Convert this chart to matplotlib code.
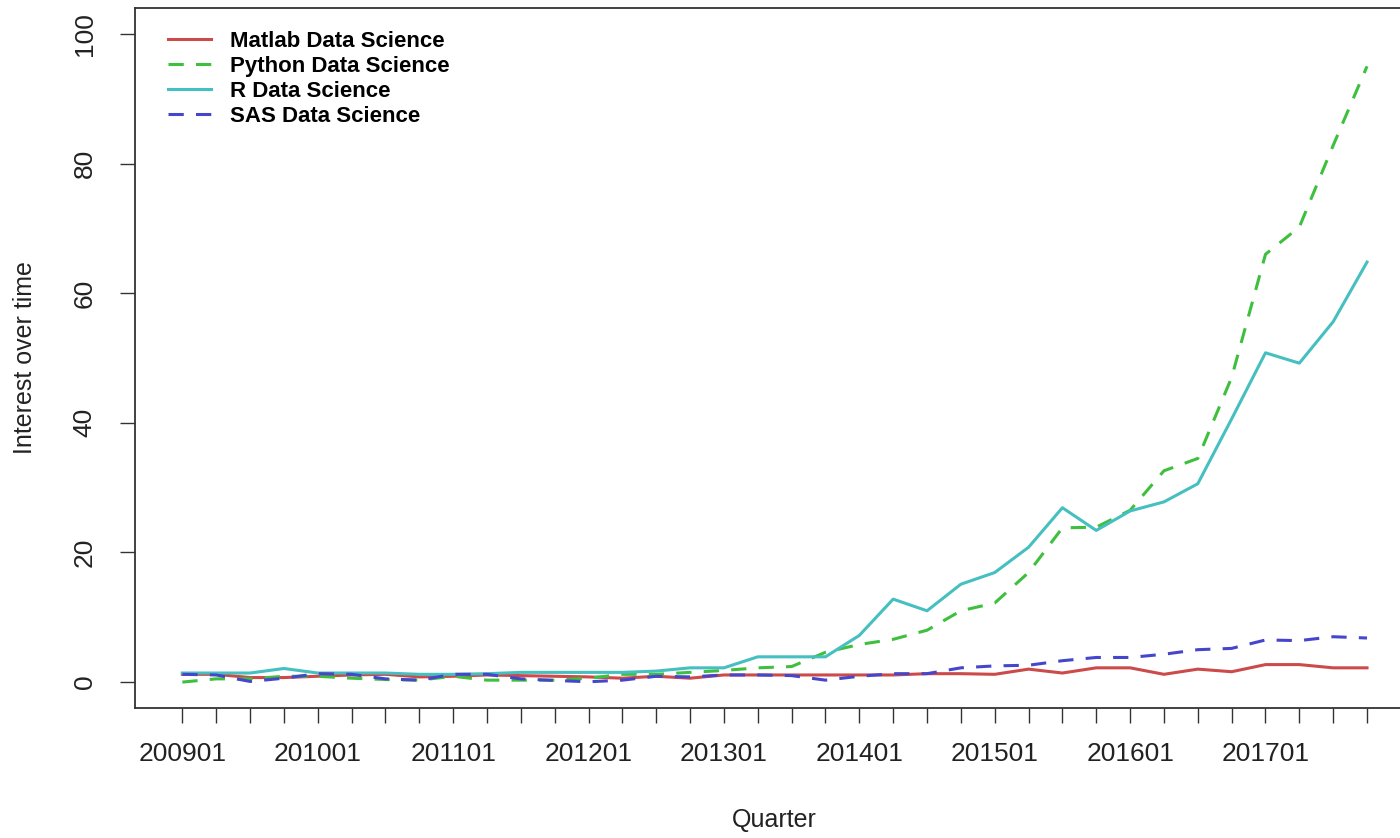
import matplotlib
matplotlib.use("Agg")
import matplotlib.pyplot as plt

plt.rcParams["font.family"] = ["Liberation Sans", "DejaVu Sans"]

# -------------------------------------------------
# DATA
# -------------------------------------------------
quarters = [f"{y}0{q}" for y in range(2009, 2018) for q in range(1, 5)]

matlab = [1.2, 1.2, 0.7, 0.7, 0.9, 1.1, 1.2, 0.8, 0.9, 1.1, 1.0, 0.9,
          0.8, 0.6, 0.9, 0.6, 1.1, 1.1, 1.1, 1.1, 1.1, 1.1, 1.3, 1.3,
          1.2, 2.0, 1.4, 2.2, 2.2, 1.2, 2.0, 1.6, 2.7, 2.7, 2.2, 2.2]
python = [0.0, 0.5, 0.5, 0.9, 0.9, 0.6, 0.4, 0.3, 0.9, 0.3, 0.3, 0.3,
          0.6, 1.2, 1.2, 1.5, 1.8, 2.2, 2.4, 4.6, 5.8, 6.6, 8.0, 11.0,
          12.2, 16.9, 23.8, 23.9, 26.5, 32.6, 34.5, 47.0, 66.0, 70.2, 82.8, 95.0]
r_lang = [1.4, 1.4, 1.4, 2.1, 1.4, 1.4, 1.4, 1.2, 1.2, 1.3, 1.5, 1.5,
          1.5, 1.5, 1.7, 2.2, 2.2, 3.9, 3.9, 3.9, 7.2, 12.8, 11.0, 15.1,
          16.9, 20.8, 26.9, 23.4, 26.4, 27.8, 30.6, 40.6, 50.8, 49.2, 55.6, 64.8]
sas = [1.2, 1.1, 0.1, 0.6, 1.3, 1.2, 0.5, 0.3, 1.2, 1.2, 0.5, 0.25,
       0.05, 0.3, 0.9, 0.8, 1.1, 1.1, 1.0, 0.3, 0.9, 1.3, 1.3, 2.2,
       2.5, 2.6, 3.3, 3.8, 3.8, 4.3, 5.0, 5.2, 6.5, 6.4, 7.0, 6.8]

series = [
    ("Matlab Data Science", matlab, "#CC4A4A", "-"),
    ("Python Data Science", python, "#3EC03E", (0, (5, 4))),
    ("R Data Science", r_lang, "#45BFC0", "-"),
    ("SAS Data Science", sas, "#4646CC", (0, (5, 4))),
]

# -------------------------------------------------
# FIGURE
# -------------------------------------------------
fig = plt.figure(figsize=(14, 8.38), dpi=100)
ax = fig.add_axes([0.0964, 0.1551, 0.9139, 0.8354])

x = list(range(len(quarters)))
for name, vals, color, ls in series:
    ax.plot(x, vals, color=color, linestyle=ls, linewidth=2.2, label=name)

ax.set_xlim(-1.4, len(quarters) - 1 + 1.4)
ax.set_ylim(-4, 104)

ax.set_xticks(x)
ax.set_xticklabels([q if i % 4 == 0 else "" for i, q in enumerate(quarters)])
ax.set_yticks([0, 20, 40, 60, 80, 100])

ax.tick_params(axis="both", direction="out", length=10.5, width=1.0,
               color="#333333", labelsize=19, labelcolor="#222222")
ax.tick_params(axis="x", pad=14)
ax.tick_params(axis="y", pad=17)
for lab in ax.get_yticklabels():
    lab.set_rotation(90)
    lab.set_va("center")

for sp in ax.spines.values():
    sp.set_linewidth(1.3)
    sp.set_color("#333333")

ax.set_xlabel("Quarter", fontsize=18, color="#222222", labelpad=30)
ax.set_ylabel("Interest over time", fontsize=18, color="#222222", labelpad=26)

ax.legend(
    loc="upper left",
    bbox_to_anchor=(0.014, 0.99),
    frameon=False,
    prop={"weight": "bold", "size": 16},
    handlelength=1.9,
    handletextpad=0.85,
    labelspacing=0.18,
    borderaxespad=0.3,
)

fig.savefig("out.png", dpi=100)
